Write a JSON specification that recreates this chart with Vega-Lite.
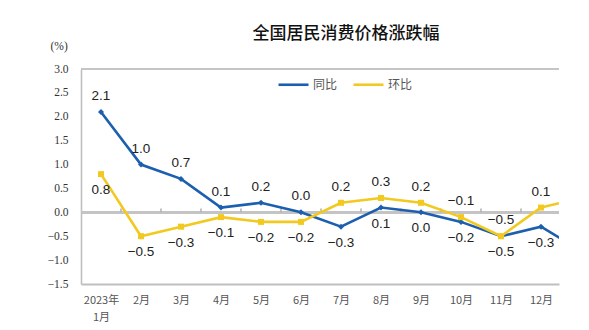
{
  "$schema": "https://vega.github.io/schema/vega-lite/v6.json",
  "width": 478,
  "height": 215,
  "autosize": {"type": "none"},
  "padding": {"left": 81, "top": 69, "right": 30, "bottom": 46},
  "background": "white",
  "title": {
    "text": "全国居民消费价格涨跌幅",
    "font": "Noto Sans CJK SC",
    "fontSize": 17,
    "fontWeight": 500,
    "color": "#111111",
    "anchor": "middle",
    "baseline": "alphabetic",
    "offset": -16,
    "dx": 26
  },
  "config": {
    "view": {"stroke": null},
    "axis": {"grid": false, "ticks": false, "labelOverlap": false, "labelFlush": false},
    "axisX": {"domain": true, "domainColor": "#bfbfbf", "domainWidth": 2, "labelFont": "Noto Sans CJK SC", "labelFontSize": 11, "labelColor": "#555555", "labelPadding": 10, "labelLineHeight": 17, "labelBaseline": "top"},
    "axisY": {"domain": true, "domainColor": "#bfbfbf", "domainWidth": 1.6, "labelFont": "Liberation Serif", "labelFontSize": 11.5, "labelColor": "#333333", "labelPadding": 13}
  },
  "data": {
    "values": [
      {"idx": 1, "同比": 2.1, "环比": 0.8},
      {"idx": 2, "同比": 1.0, "环比": -0.5},
      {"idx": 3, "同比": 0.7, "环比": -0.3},
      {"idx": 4, "同比": 0.1, "环比": -0.1},
      {"idx": 5, "同比": 0.2, "环比": -0.2},
      {"idx": 6, "同比": 0.0, "环比": -0.2},
      {"idx": 7, "同比": -0.3, "环比": 0.2},
      {"idx": 8, "同比": 0.1, "环比": 0.3},
      {"idx": 9, "同比": 0.0, "环比": 0.2},
      {"idx": 10, "同比": -0.2, "环比": -0.1},
      {"idx": 11, "同比": -0.5, "环比": -0.5},
      {"idx": 12, "同比": -0.3, "环比": 0.1},
      {"idx": 13, "同比": -0.8, "环比": 0.3}
    ]
  },
  "transform": [{"fold": ["同比", "环比"], "as": ["series", "value"]}],
  "layer": [
    {
      "mark": {"type": "rule", "color": "#c4c4c4", "strokeWidth": 1.6},
      "encoding": {
        "y": {"datum": 0, "type": "quantitative", "axis": {"values": [-1.5, -1.0, -0.5, 0, 0.5, 1.0, 1.5, 2.0, 2.5, 3.0], "format": ".1f", "title": "(%)", "titleAngle": 0, "titleAlign": "left", "titleBaseline": "middle", "titleX": -31, "titleY": -23, "titleFont": "Liberation Serif", "titleFontSize": 11.5, "titleFontWeight": "normal", "titleColor": "#333333"}}
      }
    },
    {
      "mark": {"type": "rule", "color": "#c4c4c4", "strokeWidth": 1.6},
      "encoding": {
        "y": {"datum": 3, "type": "quantitative", "axis": {"values": [-1.5, -1.0, -0.5, 0, 0.5, 1.0, 1.5, 2.0, 2.5, 3.0], "format": ".1f", "title": "(%)", "titleAngle": 0, "titleAlign": "left", "titleBaseline": "middle", "titleX": -31, "titleY": -23, "titleFont": "Liberation Serif", "titleFontSize": 11.5, "titleFontWeight": "normal", "titleColor": "#333333"}}
      }
    },
    {
      "transform": [{"filter": "datum.series == '同比' && datum.idx <= 11"}],
      "mark": {"type": "rule", "color": "#b0b0b0", "strokeWidth": 1.5, "xOffset": 20},
      "encoding": {
        "x": {"field": "idx", "type": "quantitative", "axis": {"values": [1, 2, 3, 4, 5, 6, 7, 8, 9, 10, 11, 12], "labelExpr": "datum.value == 1 ? ['2023年', '1月'] : datum.value + '月'", "title": null}},
        "y": {"datum": 0, "type": "quantitative", "axis": {"values": [-1.5, -1.0, -0.5, 0, 0.5, 1.0, 1.5, 2.0, 2.5, 3.0], "format": ".1f", "title": "(%)", "titleAngle": 0, "titleAlign": "left", "titleBaseline": "middle", "titleX": -31, "titleY": -23, "titleFont": "Liberation Serif", "titleFontSize": 11.5, "titleFontWeight": "normal", "titleColor": "#333333"}},
        "y2": {"datum": 0.08}
      }
    },
    {
      "mark": {"type": "line", "strokeWidth": 2.6, "clip": true},
      "encoding": {
        "x": {
          "field": "idx", "type": "quantitative",
          "scale": {"domain": [0.5, 12.45], "nice": false, "zero": false},
          "axis": {"values": [1, 2, 3, 4, 5, 6, 7, 8, 9, 10, 11, 12], "labelExpr": "datum.value == 1 ? ['2023年', '1月'] : datum.value + '月'", "title": null}
        },
        "y": {
          "field": "value", "type": "quantitative",
          "scale": {"domain": [-1.5, 3.0], "nice": false},
          "axis": {"values": [-1.5, -1.0, -0.5, 0, 0.5, 1.0, 1.5, 2.0, 2.5, 3.0], "format": ".1f", "title": "(%)", "titleAngle": 0, "titleAlign": "left", "titleBaseline": "middle", "titleX": -31, "titleY": -23, "titleFont": "Liberation Serif", "titleFontSize": 11.5, "titleFontWeight": "normal", "titleColor": "#333333"}
        },
        "color": {
          "field": "series", "type": "nominal",
          "scale": {"domain": ["同比", "环比"], "range": ["#1c5fae", "#f2c91e"]},
          "legend": {
            "title": null, "orient": "none", "direction": "horizontal",
            "legendX": 196, "legendY": -1,
            "symbolType": "stroke", "symbolSize": 900, "symbolStrokeWidth": 2.6,
            "labelFont": "Noto Sans CJK SC", "labelFontSize": 12, "labelColor": "#555555",
            "labelOffset": 3, "columnPadding": 10
          }
        }
      }
    },
    {
      "mark": {"type": "point", "filled": true, "opacity": 1, "size": 36, "clip": true},
      "encoding": {
        "x": {
          "field": "idx", "type": "quantitative",
          "axis": {"values": [1, 2, 3, 4, 5, 6, 7, 8, 9, 10, 11, 12], "labelExpr": "datum.value == 1 ? ['2023年', '1月'] : datum.value + '月'", "title": null}
        },
        "y": {
          "field": "value", "type": "quantitative",
          "axis": {"values": [-1.5, -1.0, -0.5, 0, 0.5, 1.0, 1.5, 2.0, 2.5, 3.0], "format": ".1f", "title": "(%)", "titleAngle": 0, "titleAlign": "left", "titleBaseline": "middle", "titleX": -31, "titleY": -23, "titleFont": "Liberation Serif", "titleFontSize": 11.5, "titleFontWeight": "normal", "titleColor": "#333333"}
        },
        "color": {"field": "series", "type": "nominal", "legend": null},
        "shape": {"condition": {"test": "datum.series == '同比'", "value": "diamond"}, "value": "square"}
      }
    },
    {
      "transform": [
        {"filter": "datum.idx <= 12"},
        {"filter": "(datum.series == '同比' && datum['同比'] >= datum['环比']) || (datum.series == '环比' && datum['环比'] > datum['同比'])"}
      ],
      "mark": {"type": "text", "dy": -16, "font": "Liberation Sans", "fontSize": 13.5, "color": "#222222", "clip": true},
      "encoding": {
        "x": {
          "field": "idx", "type": "quantitative",
          "axis": {"values": [1, 2, 3, 4, 5, 6, 7, 8, 9, 10, 11, 12], "labelExpr": "datum.value == 1 ? ['2023年', '1月'] : datum.value + '月'", "title": null}
        },
        "y": {
          "field": "value", "type": "quantitative",
          "axis": {"values": [-1.5, -1.0, -0.5, 0, 0.5, 1.0, 1.5, 2.0, 2.5, 3.0], "format": ".1f", "title": "(%)", "titleAngle": 0, "titleAlign": "left", "titleBaseline": "middle", "titleX": -31, "titleY": -23, "titleFont": "Liberation Serif", "titleFontSize": 11.5, "titleFontWeight": "normal", "titleColor": "#333333"}
        },
        "text": {"field": "value", "type": "quantitative", "format": ".1f"}
      }
    },
    {
      "transform": [
        {"filter": "datum.idx <= 12"},
        {"filter": "!((datum.series == '同比' && datum['同比'] >= datum['环比']) || (datum.series == '环比' && datum['环比'] > datum['同比']))"}
      ],
      "mark": {"type": "text", "dy": 16, "font": "Liberation Sans", "fontSize": 13.5, "color": "#222222", "clip": true},
      "encoding": {
        "x": {
          "field": "idx", "type": "quantitative",
          "axis": {"values": [1, 2, 3, 4, 5, 6, 7, 8, 9, 10, 11, 12], "labelExpr": "datum.value == 1 ? ['2023年', '1月'] : datum.value + '月'", "title": null}
        },
        "y": {
          "field": "value", "type": "quantitative",
          "axis": {"values": [-1.5, -1.0, -0.5, 0, 0.5, 1.0, 1.5, 2.0, 2.5, 3.0], "format": ".1f", "title": "(%)", "titleAngle": 0, "titleAlign": "left", "titleBaseline": "middle", "titleX": -31, "titleY": -23, "titleFont": "Liberation Serif", "titleFontSize": 11.5, "titleFontWeight": "normal", "titleColor": "#333333"}
        },
        "text": {"field": "value", "type": "quantitative", "format": ".1f"}
      }
    }
  ]
}
